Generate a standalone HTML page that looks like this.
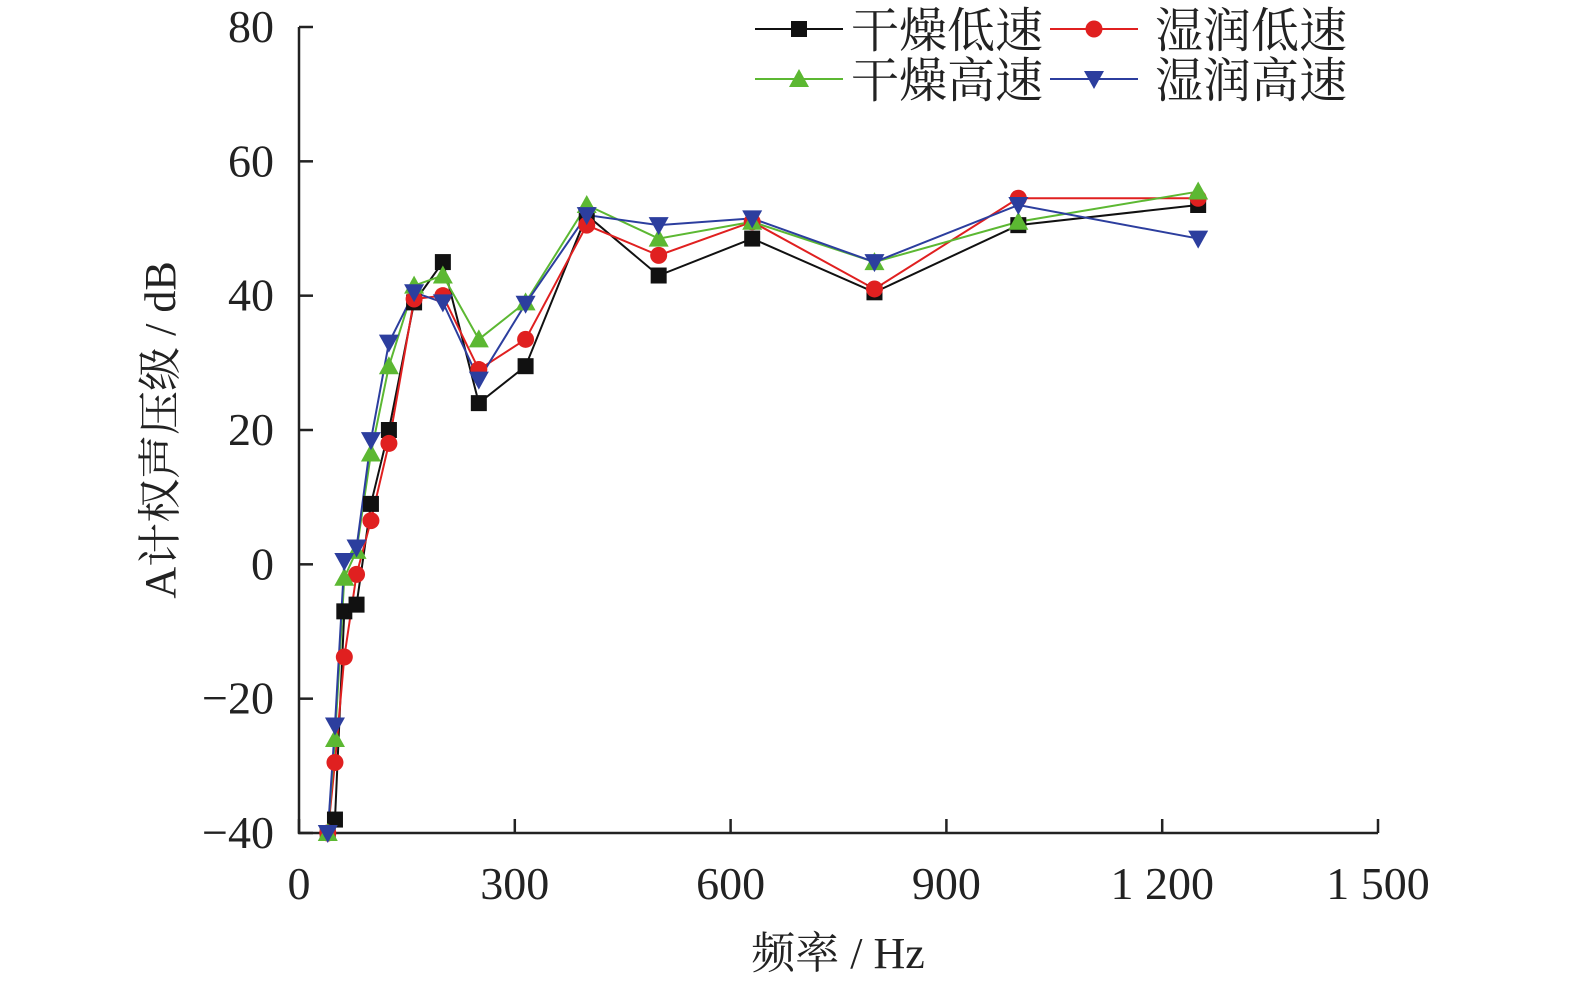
<!DOCTYPE html>
<html><head><meta charset="utf-8"><style>
html,body{margin:0;padding:0;background:#fff;width:1575px;height:987px;overflow:hidden}
svg text{font-family:"Liberation Serif","Noto Serif CJK SC",serif;fill:#222}
</style></head><body>
<svg id="s" width="1575" height="987" xmlns="http://www.w3.org/2000/svg">
<g stroke="#222" stroke-width="2.5" fill="none">
<line x1="299" y1="27" x2="299" y2="834"/>
<line x1="298" y1="833" x2="1378" y2="833"/>
</g>
<g id="ticks" stroke="#222" stroke-width="2.5"></g>
<g id="labels" font-size="46"></g>
<text x="0" y="0" font-size="44" transform="translate(175,430) rotate(-90)" text-anchor="middle">A计权声压级 / dB</text>
<text x="838" y="968" font-size="44" text-anchor="middle">频率 / Hz</text>
<g id="series"></g>
<g id="legend" font-size="48"></g>
</svg>
<script>
const NS="http://www.w3.org/2000/svg";
function el(t,a,p){const e=document.createElementNS(NS,t);for(const k in a)e.setAttribute(k,a[k]);p.appendChild(e);return e;}
const X=f=>299+f*1079/1500, Y=v=>833-(v+40)*806/120;
const tk=document.getElementById('ticks'),lb=document.getElementById('labels');
for(let v=-40;v<=80;v+=20){el('line',{x1:299,x2:313,y1:Y(v),y2:Y(v)},tk);const t=el('text',{x:274,y:Y(v)+15,'text-anchor':'end'},lb);t.textContent=v<0?'\u2212'+(-v):v;}
['0','300','600','900','1 200','1 500'].forEach((s,i)=>{const x=X(i*300);el('line',{x1:x,x2:x,y1:833,y2:819},tk);const t=el('text',{x:x,y:899,'text-anchor':'middle'},lb);t.textContent=s;});
const F=[40,50,63,80,100,125,160,200,250,315,400,500,630,800,1000,1250];
const S=[
['#111','sq',[-40,-38,-7,-6,9,20,39,45,24,29.5,52,43,48.5,40.5,50.5,53.5]],
['#e02020','ci',[-40,-29.5,-13.8,-1.5,6.5,18,39.5,40,29,33.5,50.5,46,51,41,54.5,54.5]],
['#5cb832','up',[-40,-26,-2,2,16.5,29.5,41.5,43,33.5,39,53.5,48.5,51,45,51,55.5]],
['#2c3e9e','dn',[-40,-24,0.5,2.5,18.5,33,40.5,39,27.5,38.8,52,50.5,51.5,45,53.5,48.5]]];
const g=document.getElementById('series');
function mk(t,x,y,c,p){if(t=='sq')el('rect',{x:x-8,y:y-8,width:16,height:16,fill:c},p);
else if(t=='ci')el('circle',{cx:x,cy:y,r:8.5,fill:c},p);
else if(t=='up')el('polygon',{points:`${x},${y-10} ${x-10},${y+8} ${x+10},${y+8}`,fill:c},p);
else el('polygon',{points:`${x},${y+10} ${x-10},${y-8} ${x+10},${y-8}`,fill:c},p);}
S.forEach(([c,t,d])=>{el('polyline',{points:F.map((f,i)=>X(f)+','+Y(d[i])).join(' '),fill:'none',stroke:c,'stroke-width':2},g);});
S.forEach(([c,t,d])=>{F.forEach((f,i)=>mk(t,X(f),Y(d[i]),c,g));});
const lg=document.getElementById('legend');
const L=[[755,29,0,'干燥低速'],[1050,29,1,'湿润低速'],[755,79,2,'干燥高速'],[1050,79,3,'湿润高速']];
L.forEach(([x,y,i,s])=>{const [c,t]=S[i];el('line',{x1:x,x2:x+88,y1:y,y2:y,stroke:c,'stroke-width':2},lg);mk(t,x+44,y,c,lg);
const tx=el('text',{x:i%2?x+105:x+96,y:y+18},lg);tx.textContent=s;});
</script>
</body></html>
